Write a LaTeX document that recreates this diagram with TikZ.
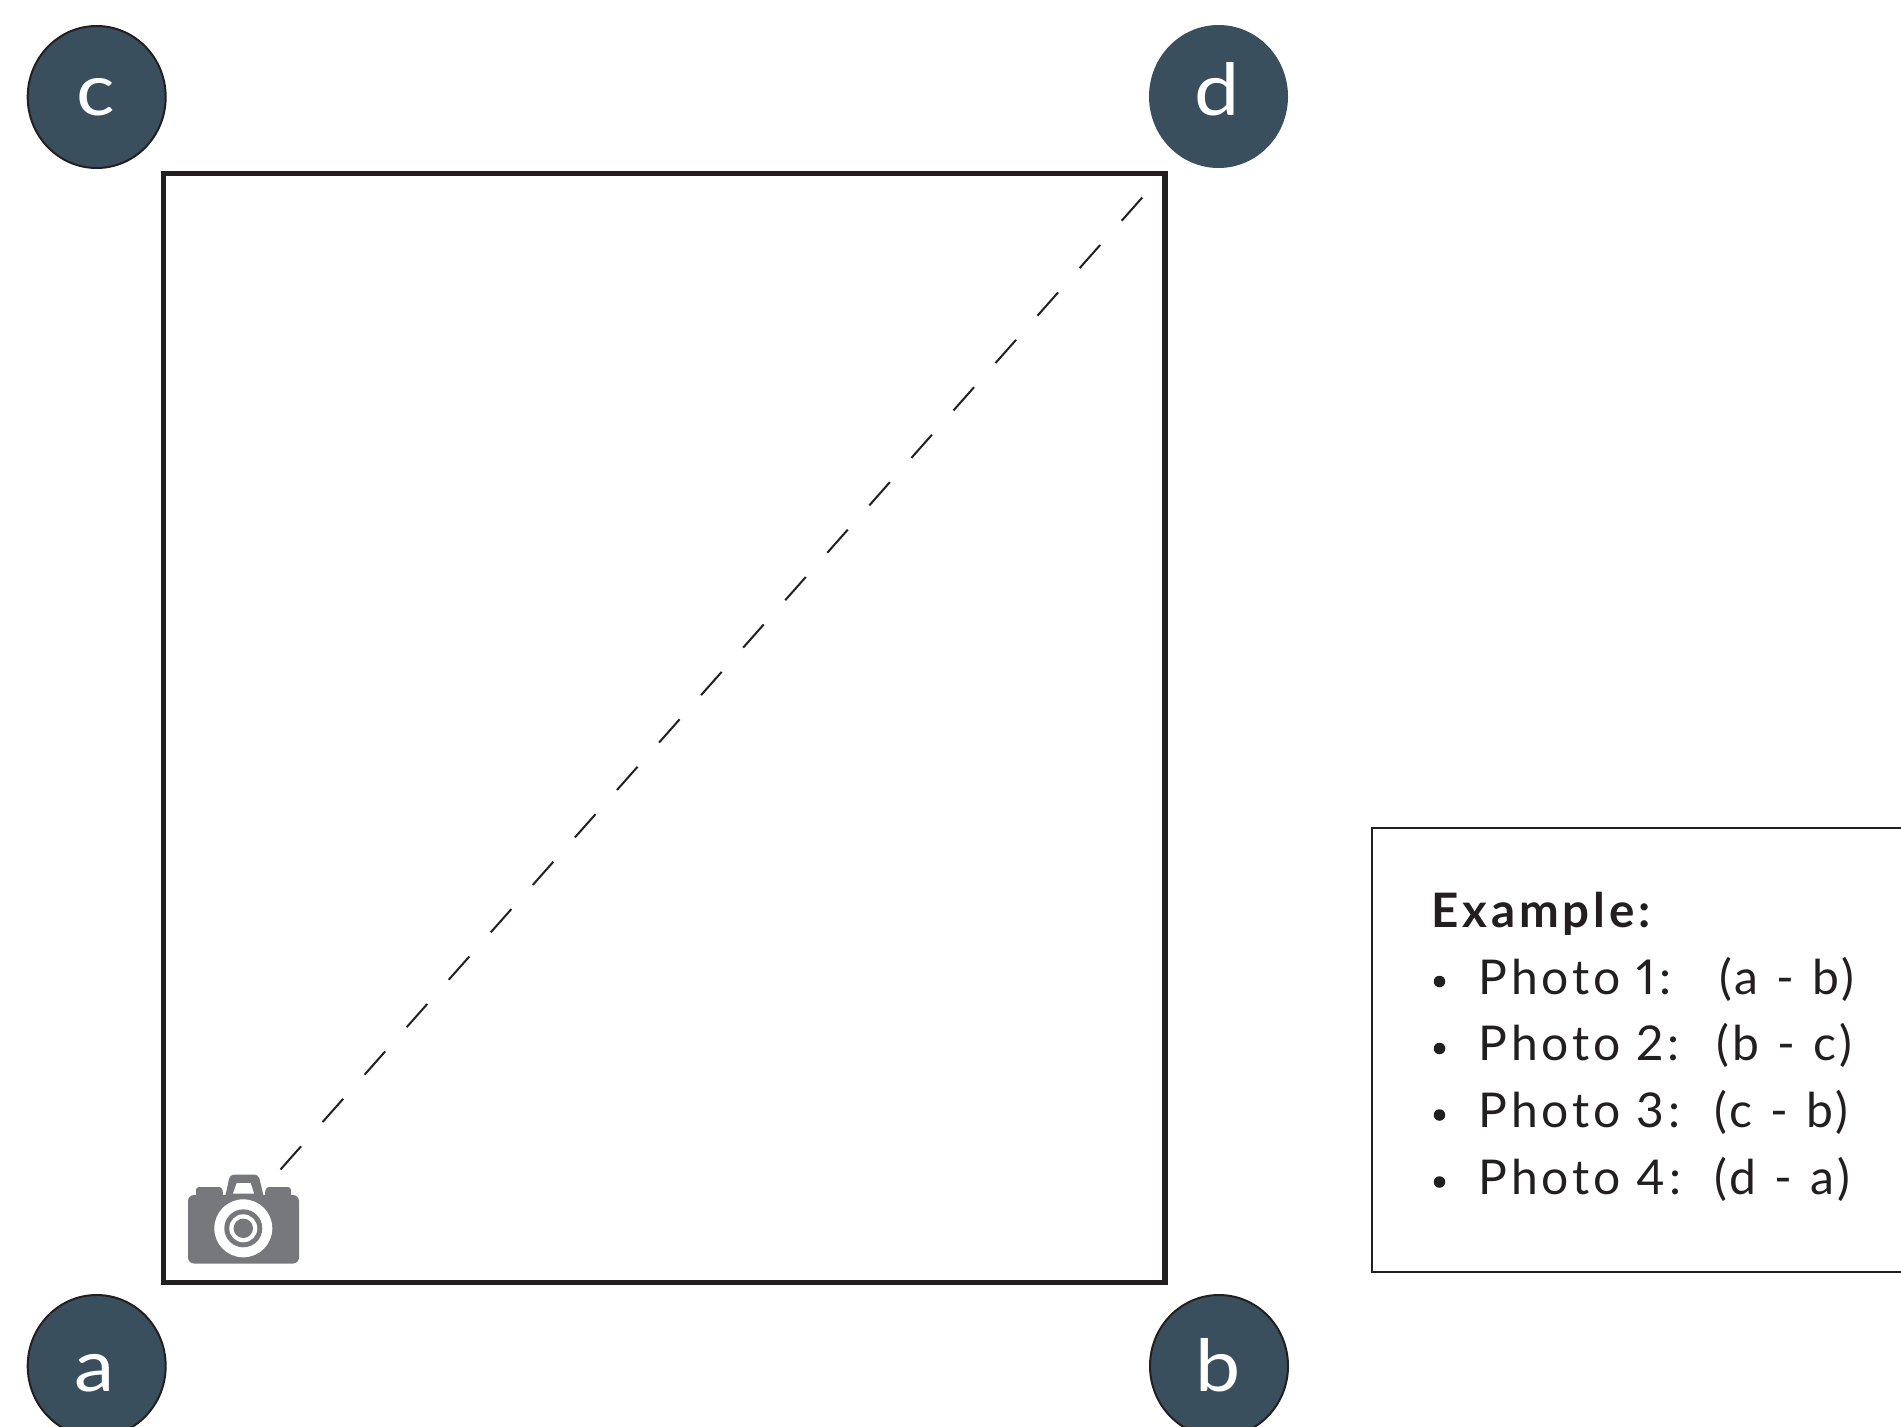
\documentclass[tikz,border=0pt]{standalone}
\usepackage{fontspec}
\setmainfont{Lato}
\usetikzlibrary{shapes.geometric}
\definecolor{slateblue}{HTML}{3A4F5E}
\definecolor{inkc}{HTML}{231F20}
\definecolor{camgray}{HTML}{77787B}
\newfontfamily\legendfont[LetterSpace=8,Numbers=Proportional]{Lato}
\newfontfamily\pairfont[LetterSpace=8,WordSpace=1.1]{Lato}
\newfontfamily\legendbold[LetterSpace=8.2]{Lato Bold}
\newfontfamily\labelfont[FakeStretch=1.12]{Lato}
\tikzset{
  corner/.style={ellipse,fill=slateblue,minimum width=138,minimum height=142,inner sep=0,outer sep=0},
  cornerline/.style={corner,draw=inkc,line width=2},
  cornerlabel/.style={text=white,anchor=base,inner sep=0,font=\labelfont\fontsize{72}{72}\selectfont},
  legendtext/.style={text=inkc,anchor=base west,inner sep=0,font=\legendfont\fontsize{48}{48}\selectfont},
  pairtext/.style={legendtext,font=\pairfont\fontsize{48}{48}\selectfont},
  bulletdot/.style={circle,fill=inkc,minimum size=11.5,inner sep=0},
}
\begin{document}
\begin{tikzpicture}[x=1pt,y=-1pt]
\useasboundingbox (0,0) rectangle (1901,1427);
% main frame
\node[draw=inkc,line width=5.5,minimum width=1001.5,minimum height=1109.2,inner sep=0,outer sep=0] (frame) at (664,727.9) {};
% corners
\node[cornerline] (c) at (96.7,97) {};
\node[corner,minimum width=139,minimum height=143] (d) at (1218.5,96.5) {};
\node[cornerline] (a) at (96.7,1366) {};
\node[cornerline] (b) at (1219,1366) {};
\node[cornerlabel] (lc) at (95.5,115.5) {c};
\node[cornerlabel] (ld) at (1217,115.7) {d};
\node[cornerlabel] (la) at (95,1391) {a};
\node[cornerlabel] (lb) at (1218,1391) {b};
% camera
\fill[camgray,rounded corners=3] (196,1200) -- (196,1187) -- (222,1187) -- (224,1200) -- cycle;
\fill[camgray,rounded corners=3] (264,1200) -- (266,1187) -- (291,1187) -- (291,1200) -- cycle;
\fill[camgray,rounded corners=4] (224.5,1200) -- (230,1174.5) -- (258.5,1174.5) -- (264.5,1200) -- cycle;
\fill[camgray,rounded corners=6] (188,1195) rectangle (299,1263.5);
\fill[white] (233,1193.5) -- (236.7,1183) -- (250.7,1183) -- (254,1193.5) -- cycle;
\fill[white] (243.3,1228.3) circle (29);
\fill[camgray] (243.3,1228.3) circle (19);
\fill[white] (243.3,1228.3) circle (14);
\fill[camgray] (243.3,1228.3) circle (9.7);
% sight line
\coordinate (camview) at (280.5,1169.5);
\coordinate (target) at (1142.7,197);
\draw[inkc,line width=2,dash pattern=on 31 off 32.4] (camview) -- (target);
% legend
\node[draw=inkc,line width=2,minimum width=560,minimum height=444,inner sep=0,outer sep=0,anchor=north west] (legend) at (1372,828) {};
\node[legendtext,font=\legendbold\fontsize{47.5}{47.5}\selectfont] (title) at (1431,927) {Example:};
\node[legendtext] (p1) at (1478.5,994) {Photo 1:};
\node[legendtext] (p2) at (1478.5,1060.7) {Photo 2:};
\node[legendtext] (p3) at (1478.5,1127.3) {Photo 3:};
\node[legendtext] (p4) at (1478.5,1194) {Photo 4:};
\node[pairtext] (q1) at (1719,994) {(a - b)};
\node[pairtext] (q2) at (1716,1060.7) {(b - c)};
\node[pairtext] (q3) at (1714.5,1127.3) {(c - b)};
\node[pairtext] (q4) at (1714.5,1194) {(d - a)};
\node[bulletdot] (b1) at (1439.5,981.5) {};
\node[bulletdot] (b2) at (1439.5,1048.5) {};
\node[bulletdot] (b3) at (1439.5,1115) {};
\node[bulletdot] (b4) at (1439.5,1182) {};
\end{tikzpicture}
\end{document}
